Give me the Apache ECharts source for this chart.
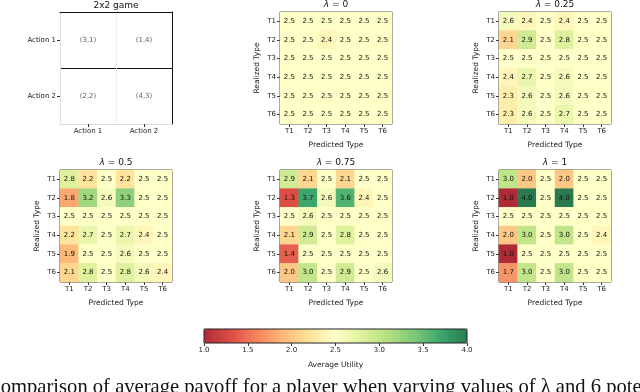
<!DOCTYPE html>
<html>
<head>
<meta charset="utf-8">
<script src="https://cdn.jsdelivr.net/npm/echarts@6/dist/echarts.min.js"></script>
<style>
  html, body { margin: 0; padding: 0; background: #fff; }
  #chart { width: 640px; height: 392px; }
</style>
</head>
<body>
<div id="chart"></div>
<script>
// data
const types = ['T1', 'T2', 'T3', 'T4', 'T5', 'T6'];
const gameActions = ['Action 1', 'Action 2'];
const gamePayoffs = [
  ['(3,1)', '(1,4)'],
  ['(2,2)', '(4,3)']
];
const lambdaLabels = ['0', '0.25', '0.5', '0.75', '1'];

// rows = realized type, cols = predicted type
const utilLambda0 = [
  [2.5, 2.5, 2.5, 2.5, 2.5, 2.5],
  [2.5, 2.5, 2.4, 2.5, 2.5, 2.5],
  [2.5, 2.5, 2.5, 2.5, 2.5, 2.5],
  [2.5, 2.5, 2.5, 2.5, 2.5, 2.5],
  [2.5, 2.5, 2.5, 2.5, 2.5, 2.5],
  [2.5, 2.5, 2.5, 2.5, 2.5, 2.5]
];
const utilLambda025 = [
  [2.6, 2.4, 2.5, 2.4, 2.5, 2.5],
  [2.1, 2.9, 2.5, 2.8, 2.5, 2.5],
  [2.5, 2.5, 2.5, 2.5, 2.5, 2.5],
  [2.4, 2.7, 2.5, 2.6, 2.5, 2.5],
  [2.3, 2.6, 2.5, 2.6, 2.5, 2.5],
  [2.3, 2.6, 2.5, 2.7, 2.5, 2.5]
];
const utilLambda05 = [
  [2.8, 2.2, 2.5, 2.2, 2.5, 2.5],
  [1.8, 3.2, 2.6, 3.3, 2.5, 2.5],
  [2.5, 2.5, 2.5, 2.5, 2.5, 2.5],
  [2.2, 2.7, 2.5, 2.7, 2.4, 2.5],
  [1.9, 2.5, 2.5, 2.6, 2.5, 2.5],
  [2.1, 2.8, 2.5, 2.8, 2.6, 2.4]
];
const utilLambda075 = [
  [2.9, 2.1, 2.5, 2.1, 2.5, 2.5],
  [1.3, 3.7, 2.6, 3.6, 2.4, 2.5],
  [2.5, 2.6, 2.5, 2.5, 2.5, 2.5],
  [2.1, 2.9, 2.5, 2.8, 2.5, 2.5],
  [1.4, 2.5, 2.5, 2.5, 2.5, 2.5],
  [2.0, 3.0, 2.5, 2.9, 2.5, 2.6]
];
const utilLambda1 = [
  [3.0, 2.0, 2.5, 2.0, 2.5, 2.5],
  [1.0, 4.0, 2.5, 4.0, 2.5, 2.5],
  [2.5, 2.5, 2.5, 2.5, 2.5, 2.5],
  [2.0, 3.0, 2.5, 3.0, 2.5, 2.4],
  [1.0, 2.5, 2.5, 2.5, 2.5, 2.5],
  [1.7, 3.0, 2.5, 3.0, 2.5, 2.5]
];
const utilMin = 1.0;
const utilMax = 4.0;

// layout
const font = 'DejaVu Sans';
const cell = 112;
const gamePos = { left: 60, top: 12 };
const panelPos = [
  { left: 280, top: 12 },
  { left: 499, top: 12 },
  { left: 60, top: 170 },
  { left: 280, top: 170 },
  { left: 499, top: 170 }
];
const matrices = [utilLambda0, utilLambda025, utilLambda05, utilLambda075, utilLambda1];

// RdYlGn, slightly washed out
const rdylgn = ['#b02a36', '#dc4d44', '#f5835f', '#fdba79', '#fee49c', '#ffffc8',
                '#def19c', '#b3df80', '#7dc77a', '#3ca76a', '#2a7a50'];

const chart = echarts.init(document.getElementById('chart'));

const grid = [];
const xAxis = [];
const yAxis = [];
const series = [];
const graphic = [];

const tickLabel = { fontSize: 7, fontFamily: font, color: '#222', margin: 4 };
const tick = { show: true, length: 3, lineStyle: { color: '#333' } };

// 2x2 game panel
grid.push({ left: gamePos.left, top: gamePos.top, width: cell, height: cell, show: false });
xAxis.push({
  type: 'category', gridIndex: 0, data: gameActions,
  axisLine: { show: true, lineStyle: { color: '#ddd' } },
  axisTick: Object.assign({ alignWithLabel: true }, tick),
  axisLabel: Object.assign({ interval: 0 }, tickLabel),
  splitLine: { show: true, interval: 0, lineStyle: { color: '#ddd', type: 'dotted' } },
  z: 3
});
yAxis.push({
  type: 'category', gridIndex: 0, data: gameActions, inverse: true,
  axisLine: { show: true, lineStyle: { color: '#ddd' } },
  axisTick: Object.assign({ alignWithLabel: true }, tick),
  axisLabel: Object.assign({ interval: 0 }, tickLabel),
  splitLine: { show: true, interval: 0, lineStyle: { color: '#111', width: 1 } },
  z: 1
});
// top / right black spines of the game panel
xAxis.push({
  type: 'category', gridIndex: 0, data: gameActions, position: 'top',
  axisLine: { show: true, lineStyle: { color: '#111' } },
  axisTick: { show: false }, axisLabel: { show: false }, z: 4
});
yAxis.push({
  type: 'category', gridIndex: 0, data: gameActions, position: 'right', inverse: true,
  axisLine: { show: true, lineStyle: { color: '#111' } },
  axisTick: { show: false }, axisLabel: { show: false }, z: 4
});
const gameData = [];
gamePayoffs.forEach((row, r) => {
  row.forEach((txt, c) => gameData.push({ value: [c, r], name: txt }));
});
series.push({
  type: 'scatter', xAxisIndex: 0, yAxisIndex: 0,
  symbol: 'rect', symbolSize: 1,
  itemStyle: { color: 'rgba(0,0,0,0)' },
  label: {
    show: true, position: 'inside', fontSize: 7, fontFamily: font, color: '#333',
    formatter: p => p.name
  },
  data: gameData
});
graphic.push({
  type: 'text', x: gamePos.left + cell / 2, y: 6,
  style: { text: '2x2 game', font: '9px ' + font, fill: '#111', align: 'center', verticalAlign: 'middle' }
});

// heatmap panels
const heatSeriesIdx = [];
matrices.forEach((m, i) => {
  const g = grid.length;
  const pos = panelPos[i];
  grid.push({
    left: pos.left, top: pos.top, width: cell, height: cell,
    show: true, borderColor: '#222', borderWidth: 1, backgroundColor: 'transparent'
  });
  xAxis.push({
    type: 'category', gridIndex: g, data: types,
    axisLine: { show: false },
    axisTick: Object.assign({ alignWithLabel: true }, tick),
    axisLabel: Object.assign({ interval: 0 }, tickLabel),
    splitLine: { show: false }, splitArea: { show: false },
    name: 'Predicted Type', nameLocation: 'middle', nameGap: 17,
    nameTextStyle: { fontSize: 7.5, fontFamily: font, color: '#222' }
  });
  yAxis.push({
    type: 'category', gridIndex: g, data: types, inverse: true,
    axisLine: { show: false },
    axisTick: Object.assign({ alignWithLabel: true }, tick),
    axisLabel: Object.assign({ interval: 0 }, tickLabel),
    splitLine: { show: false }, splitArea: { show: false },
    name: 'Realized Type', nameLocation: 'middle', nameGap: 19, nameRotate: 90,
    nameTextStyle: { fontSize: 7.5, fontFamily: font, color: '#222' }
  });
  const data = [];
  m.forEach((row, r) => row.forEach((v, c) => data.push([c, r, v])));
  heatSeriesIdx.push(series.length);
  series.push({
    type: 'heatmap', xAxisIndex: xAxis.length - 1, yAxisIndex: yAxis.length - 1,
    data: data,
    label: {
      show: true, fontSize: 7, fontFamily: font, color: '#111',
      formatter: p => p.value[2].toFixed(1)
    },
    emphasis: { disabled: true }
  });
  graphic.push({
    type: 'text', x: pos.left + cell / 2, y: pos.top - 7,
    style: {
      text: '{i|λ} = ' + lambdaLabels[i],
      rich: { i: { fontStyle: 'italic', fontFamily: font, fontSize: 9, fill: '#111' } },
      font: '9px ' + font, fill: '#111', align: 'center', verticalAlign: 'middle'
    }
  });
});

// colorbar axis
const cbGrid = grid.length;
grid.push({
  left: 204, top: 329, width: 263, height: 14,
  show: true, borderColor: '#222', borderWidth: 1, backgroundColor: 'transparent', z: 10
});
xAxis.push({
  type: 'value', gridIndex: cbGrid, min: utilMin, max: utilMax, interval: 0.5,
  axisLine: { show: false },
  axisTick: tick,
  axisLabel: Object.assign({ formatter: v => v.toFixed(1) }, tickLabel),
  splitLine: { show: false },
  name: 'Average Utility', nameLocation: 'middle', nameGap: 18,
  nameTextStyle: { fontSize: 7.5, fontFamily: font, color: '#222' }
});
yAxis.push({ type: 'value', gridIndex: cbGrid, show: false, splitLine: { show: false } });

// caption (cut off at the page edges)
graphic.push({
  type: 'text', x: -13, y: 377,
  style: {
    text: 'Comparison of average payoff for a player when varying values of λ and 6 potential types',
    font: '20.6px "Liberation Serif"', fill: '#111', align: 'left', verticalAlign: 'top'
  }
});

const option = {
  animation: false,
  backgroundColor: '#fff',
  textStyle: { fontFamily: font },
  grid: grid,
  xAxis: xAxis,
  yAxis: yAxis,
  visualMap: {
    type: 'continuous',
    seriesIndex: heatSeriesIdx,
    min: utilMin, max: utilMax,
    orient: 'horizontal',
    left: 204, top: 329,
    itemWidth: 14, itemHeight: 263,
    padding: 0,
    calculable: false,
    text: null,
    hoverLink: false,
    inRange: { color: rdylgn }
  },
  graphic: graphic,
  series: series
};
chart.setOption(option);
</script>
</body>
</html>
